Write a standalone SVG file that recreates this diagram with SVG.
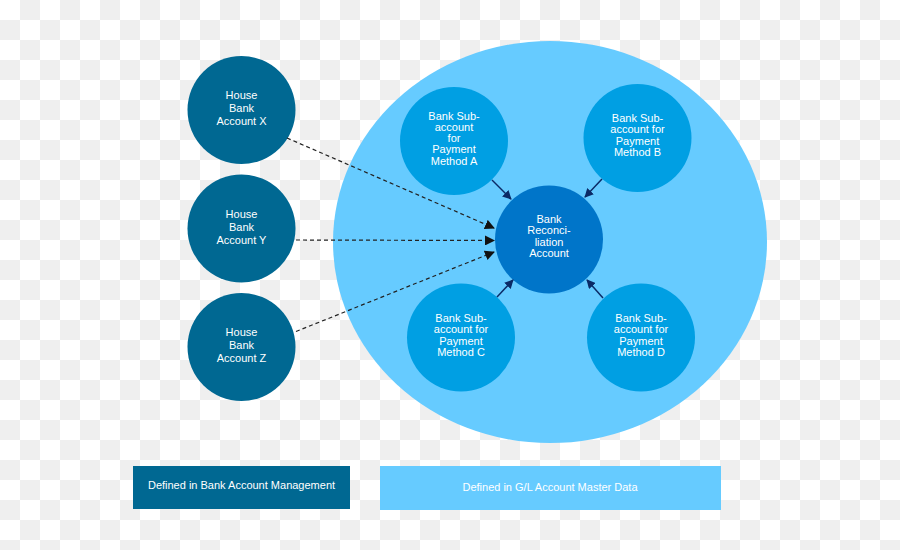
<svg xmlns="http://www.w3.org/2000/svg" width="900" height="550" viewBox="0 0 900 550">
<defs>
<pattern id="checker" x="0" y="0" width="40" height="40" patternUnits="userSpaceOnUse">
<rect width="40" height="40" fill="#ffffff"/>
<rect x="20" y="0" width="20" height="20" fill="#efefef"/>
<rect x="0" y="20" width="20" height="20" fill="#efefef"/>
</pattern>
<marker id="headDash" viewBox="0 0 10 10" refX="9" refY="5" markerWidth="10" markerHeight="10" markerUnits="userSpaceOnUse" orient="auto">
<path d="M0,0 L10,5 L0,10 Z" fill="#111"/>
</marker>
<marker id="headSolid" viewBox="0 0 10 10" refX="9" refY="5" markerWidth="9" markerHeight="9" markerUnits="userSpaceOnUse" orient="auto">
<path d="M0,0 L10,5 L0,10 Z" fill="#0b2a66"/>
</marker>
</defs>
<style>
.t{font-family:"Liberation Sans",Arial,sans-serif;font-size:11px;fill:#ffffff;text-anchor:middle}
.house{fill:#006892}
.sub{fill:#009fe3}
.recon{fill:#0075c9}
.dash{stroke:#222;stroke-width:1.2;stroke-dasharray:4 3;fill:none;marker-end:url(#headDash)}
.solid{stroke:#0b2a66;stroke-width:1.5;fill:none;marker-end:url(#headSolid)}
</style>
<rect width="900" height="550" fill="url(#checker)"/>
<g id="gl-area">
<ellipse cx="550" cy="242" rx="217" ry="201" fill="#66cbff"/>
</g>
<g id="house-x">
<circle class="house" cx="241.5" cy="110" r="54"/>
<text class="t"><tspan x="241.5" y="99">House</tspan><tspan x="241.5" y="112">Bank</tspan><tspan x="241.5" y="125">Account X</tspan></text>
</g>
<g id="house-y">
<circle class="house" cx="241.5" cy="228.5" r="54"/>
<text class="t"><tspan x="241.5" y="218">House</tspan><tspan x="241.5" y="231">Bank</tspan><tspan x="241.5" y="244">Account Y</tspan></text>
</g>
<g id="house-z">
<circle class="house" cx="241.5" cy="347" r="54"/>
<text class="t"><tspan x="241.5" y="336">House</tspan><tspan x="241.5" y="349">Bank</tspan><tspan x="241.5" y="362">Account Z</tspan></text>
</g>
<g id="sub-a">
<circle class="sub" cx="454" cy="141" r="54"/>
<text class="t"><tspan x="454" y="119.5">Bank Sub-</tspan><tspan x="454" y="130.5">account</tspan><tspan x="454" y="142">for</tspan><tspan x="454" y="153">Payment</tspan><tspan x="454" y="165">Method A</tspan></text>
</g>
<g id="sub-b">
<circle class="sub" cx="637.5" cy="138" r="54"/>
<text class="t"><tspan x="637.5" y="122">Bank Sub-</tspan><tspan x="637.5" y="133">account for</tspan><tspan x="637.5" y="145">Payment</tspan><tspan x="637.5" y="156">Method B</tspan></text>
</g>
<g id="recon">
<circle class="recon" cx="549" cy="239.5" r="54"/>
<text class="t"><tspan x="549" y="223">Bank</tspan><tspan x="549" y="234">Reconci-</tspan><tspan x="549" y="246">liation</tspan><tspan x="549" y="257">Account</tspan></text>
</g>
<g id="sub-c">
<circle class="sub" cx="461" cy="337.5" r="54"/>
<text class="t"><tspan x="461" y="322">Bank Sub-</tspan><tspan x="461" y="333">account for</tspan><tspan x="461" y="345">Payment</tspan><tspan x="461" y="356">Method C</tspan></text>
</g>
<g id="sub-d">
<circle class="sub" cx="641" cy="337.5" r="54"/>
<text class="t"><tspan x="641" y="322">Bank Sub-</tspan><tspan x="641" y="333">account for</tspan><tspan x="641" y="345">Payment</tspan><tspan x="641" y="356">Method D</tspan></text>
</g>
<g id="connectors">
<line class="dash" x1="287" y1="138" x2="494" y2="228"/>
<line class="dash" x1="296" y1="240" x2="494" y2="240.5"/>
<line class="dash" x1="296" y1="331.5" x2="494" y2="252"/>
<line class="solid" x1="492" y1="180" x2="511" y2="199"/>
<line class="solid" x1="602" y1="179" x2="585" y2="197"/>
<line class="solid" x1="497" y1="297" x2="513" y2="280"/>
<line class="solid" x1="603" y1="298" x2="587" y2="280"/>
</g>
<g id="legend-bam">
<rect x="133" y="466" width="217" height="43" fill="#006892"/>
<text class="t" x="241.5" y="489">Defined in Bank Account Management</text>
</g>
<g id="legend-gl">
<rect x="380" y="466" width="341" height="44" fill="#66cbff"/>
<text class="t" x="550" y="491">Defined in G/L Account Master Data</text>
</g>
</svg>
